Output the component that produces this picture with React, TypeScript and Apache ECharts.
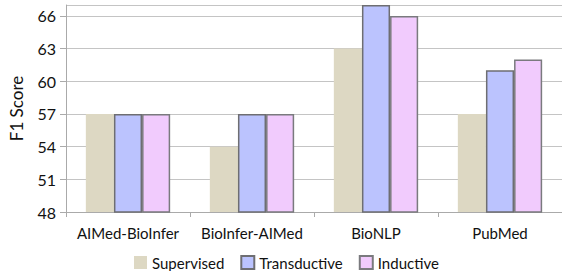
import React, { useEffect, useRef } from "react";
import * as echarts from "echarts";

const categories = ["AIMed-BioInfer", "BioInfer-AIMed", "BioNLP", "PubMed"];
const supervised = [57, 54, 63, 57];
const transductive = [57, 57, 67, 61];
const inductive = [57, 57, 66, 62];
const seriesNames = ["Supervised", "Transductive", "Inductive"];

const FONT = "Lato, 'Open Sans', sans-serif";

export default function App() {
  const ref = useRef<HTMLDivElement>(null);
  useEffect(() => {
    if (!ref.current) return;
    const chart = echarts.init(ref.current, undefined, { renderer: "svg" });
    const border = { borderColor: "#6e6e72", borderWidth: 1.5 };
    chart.setOption({
      animation: false,
      grid: { left: 65, right: 0, top: 5, bottom: 59, containLabel: false },
      legend: {
        top: 255,
        left: 134,
        padding: 0,
        itemWidth: 13,
        itemHeight: 13,
        itemGap: 16,
        icon: "rect",
        textStyle: { fontSize: 15, color: "#111", fontFamily: FONT },
        data: seriesNames,
      },
      xAxis: {
        type: "category",
        data: categories,
        axisLine: { lineStyle: { color: "#aaa", width: 1 } },
        axisTick: { show: true, length: 5, lineStyle: { color: "#aaa" } },
        axisLabel: { fontSize: 15, color: "#111", fontFamily: FONT, margin: 13, interval: 0 },
      },
      yAxis: {
        type: "value",
        min: 48,
        max: 67,
        interval: 3,
        name: "F1 Score",
        nameLocation: "middle",
        nameGap: 41,
        nameRotate: 90,
        nameTextStyle: { fontSize: 17, color: "#111", fontFamily: FONT },
        axisLine: { show: true, lineStyle: { color: "#aaa" } },
        axisTick: { show: true, length: 6, lineStyle: { color: "#aaa" } },
        axisLabel: { fontSize: 16, color: "#111", fontFamily: FONT, margin: 10 },
        splitLine: { lineStyle: { color: "#c4c4c4", width: 1.2 } },
      },
      series: [
        {
          name: seriesNames[0],
          type: "bar",
          data: supervised,
          barGap: "0%",
          barCategoryGap: "32%",
          itemStyle: { color: "#ddd8c3" },
        },
        {
          name: seriesNames[1],
          type: "bar",
          data: transductive,
          itemStyle: { color: "#bbc3fe", ...border },
        },
        {
          name: seriesNames[2],
          type: "bar",
          data: inductive,
          itemStyle: { color: "#f1cbfd", ...border, borderColor: "#7a7a7e" },
        },
      ],
    });
    return () => chart.dispose();
  }, []);
  return <div ref={ref} style={{ width: 562, height: 271, position: "absolute", left: 0, top: 0 }} />;
}
